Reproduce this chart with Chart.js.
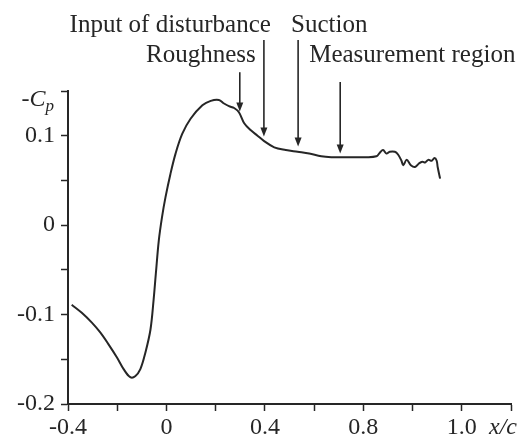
<!DOCTYPE html>
<html>
<head>
    <meta charset="UTF-8">
    <title>Pressure distribution -Cp</title>
    <script src="https://cdn.jsdelivr.net/npm/chart.js@4/dist/chart.umd.min.js"></script>
    <style>
        body {
            margin: 0;
            background: #fff;
        }
        .wrap {
            position: relative;
            width: 519px;
            height: 438px;
        }
    </style>
</head>
<body>
<div class="wrap">
    <canvas id="cpChart"></canvas>
</div>

<script>
    // chordwise position x/c and pressure coefficient -Cp
    const xc = [-0.385, -0.344, -0.303, -0.269, -0.236, -0.201, -0.174, -0.147, -0.127, -0.106,
        -0.086, -0.065, -0.052, -0.043, -0.031, -0.018, -0.004, 0.016, 0.037, 0.064, 0.098,
        0.146, 0.180, 0.213, 0.234, 0.254, 0.275, 0.295, 0.316, 0.343, 0.370, 0.397, 0.438,
        0.485, 0.533, 0.580, 0.629, 0.670, 0.710, 0.760, 0.810, 0.853, 0.867, 0.880, 0.894,
        0.907, 0.928, 0.941, 0.955, 0.962, 0.976, 0.993, 1.010, 1.026, 1.040, 1.051, 1.064,
        1.078, 1.089, 1.098, 1.102, 1.112];
    const cp = [-0.089, -0.098, -0.109, -0.120, -0.133, -0.148, -0.161, -0.170, -0.169, -0.161,
        -0.143, -0.117, -0.083, -0.054, -0.017, 0.009, 0.031, 0.057, 0.080, 0.102, 0.119,
        0.134, 0.139, 0.140, 0.136, 0.133, 0.131, 0.126, 0.114, 0.106, 0.100, 0.094, 0.087,
        0.084, 0.082, 0.080, 0.077, 0.076, 0.076, 0.076, 0.076, 0.077, 0.081, 0.084, 0.080,
        0.082, 0.082, 0.079, 0.072, 0.067, 0.073, 0.067, 0.065, 0.069, 0.071, 0.070, 0.073,
        0.072, 0.075, 0.072, 0.065, 0.052];

    // axis ticks (the original figure labels the 1.2 tick "1.0")
    const xTickValues = [-0.4, -0.2, 0, 0.2, 0.4, 0.6, 0.8, 1.0, 1.2, 1.4];
    const xTickLabels = ['-0.4', '', '0', '', '0.4', '', '0.8', '', '1.0', ''];
    const yTickValues = [-0.2, -0.15, -0.1, -0.05, 0, 0.05, 0.1, 0.15];
    const yTickLabels = ['-0.2', '', '-0.1', '', '0', '', '0.1', ''];

    // arrows pointing at the curve
    const markNames = ['Roughness', 'Input of disturbance', 'Suction', 'Measurement region'];
    const markX = [0.298, 0.396, 0.535, 0.706];
    const markTop = [0.171, 0.207, 0.207, 0.160];
    const markTip = [0.127, 0.099, 0.088, 0.080];

    const ink = '#262626';
    const serif = '"Liberation Serif", "DejaVu Serif", serif';

    const annotations = {
        id: 'annotations',
        afterDraw(chart) {
            const { ctx, scales: { x, y } } = chart;
            ctx.save();
            ctx.strokeStyle = ink;
            ctx.fillStyle = ink;
            ctx.lineWidth = 1.6;

            // arrows
            markX.forEach((v, i) => {
                const px = x.getPixelForValue(v);
                const top = y.getPixelForValue(markTop[i]);
                const tip = y.getPixelForValue(markTip[i]);
                ctx.beginPath();
                ctx.moveTo(px, top);
                ctx.lineTo(px, tip - 6);
                ctx.stroke();
                ctx.beginPath();
                ctx.moveTo(px - 3.5, tip - 9);
                ctx.lineTo(px + 3.5, tip - 9);
                ctx.lineTo(px, tip);
                ctx.closePath();
                ctx.fill();
            });

            // arrow labels
            ctx.font = '25px ' + serif;
            ctx.textBaseline = 'alphabetic';
            const topLine = y.getPixelForValue(0.2156);
            const lowLine = y.getPixelForValue(0.1822);
            ctx.textAlign = 'right';
            ctx.fillText(markNames[1], x.getPixelForValue(markX[1]) + 7, topLine);
            ctx.fillText(markNames[0], x.getPixelForValue(markX[0]) + 16, lowLine);
            ctx.textAlign = 'left';
            ctx.fillText(markNames[2], x.getPixelForValue(markX[2]) - 7, topLine);
            ctx.fillText(markNames[3], x.getPixelForValue(markX[3]) - 31, lowLine);

            // -Cp at the top of the y axis
            const yTop = y.getPixelForValue(0.15);
            const right = x.left - 14;
            ctx.font = 'italic 17px ' + serif;
            const wp = ctx.measureText('p').width;
            ctx.font = 'italic 24px ' + serif;
            const wc = ctx.measureText('C').width;
            ctx.font = '24px ' + serif;
            const wm = ctx.measureText('-').width;
            const cx = right - wp - wc - wm;
            ctx.textAlign = 'left';
            ctx.fillText('-', cx, yTop + 15);
            ctx.font = 'italic 24px ' + serif;
            ctx.fillText('C', cx + wm, yTop + 15);
            ctx.font = 'italic 17px ' + serif;
            ctx.fillText('p', cx + wm + wc, yTop + 20);

            // x/c at the end of the x axis
            ctx.font = 'italic 24px ' + serif;
            ctx.textAlign = 'right';
            ctx.fillText('x/c', chart.width - 2, x.bottom - 4);
            ctx.restore();
        }
    };

    const ctx = document.getElementById('cpChart').getContext('2d');
    const chart = new Chart(ctx, {
        type: 'line',
        data: {
            datasets: [{
                data: xc.map((v, i) => ({ x: v, y: cp[i] })),
                borderColor: ink,
                borderWidth: 2,
                pointRadius: 0,
                fill: false,
                tension: 0.35
            }]
        },
        options: {
            responsive: true,
            maintainAspectRatio: false,
            animation: false,
            layout: {
                padding: { top: 91, right: 8, left: 0, bottom: 0 }
            },
            plugins: {
                legend: { display: false },
                tooltip: { enabled: false }
            },
            scales: {
                x: {
                    type: 'linear',
                    min: -0.4,
                    max: 1.4,
                    afterBuildTicks: s => { s.ticks = xTickValues.map(v => ({ value: v })); },
                    afterFit: s => { s.height = 34; s.paddingLeft = 0; s.paddingRight = 0; },
                    grid: {
                        drawOnChartArea: false,
                        drawTicks: true,
                        tickLength: 7,
                        tickColor: ink,
                        tickWidth: 1.5
                    },
                    border: { display: true, color: ink, width: 2 },
                    ticks: {
                        autoSkip: false,
                        maxRotation: 0,
                        padding: 2,
                        color: ink,
                        font: { family: serif, size: 24 },
                        callback: (v, i) => xTickLabels[i]
                    }
                },
                y: {
                    type: 'linear',
                    min: -0.2,
                    max: 0.15,
                    afterBuildTicks: s => { s.ticks = yTickValues.map(v => ({ value: v })); },
                    afterFit: s => { s.width = 68; s.paddingTop = 0; s.paddingBottom = 0; },
                    grid: {
                        drawOnChartArea: false,
                        drawTicks: true,
                        tickLength: 7,
                        tickColor: ink,
                        tickWidth: 1.5
                    },
                    border: { display: true, color: ink, width: 2 },
                    ticks: {
                        autoSkip: false,
                        padding: 6,
                        color: ink,
                        font: { family: serif, size: 24 },
                        callback: (v, i) => yTickLabels[i]
                    }
                }
            }
        },
        plugins: [annotations]
    });
</script>
</body>
</html>
